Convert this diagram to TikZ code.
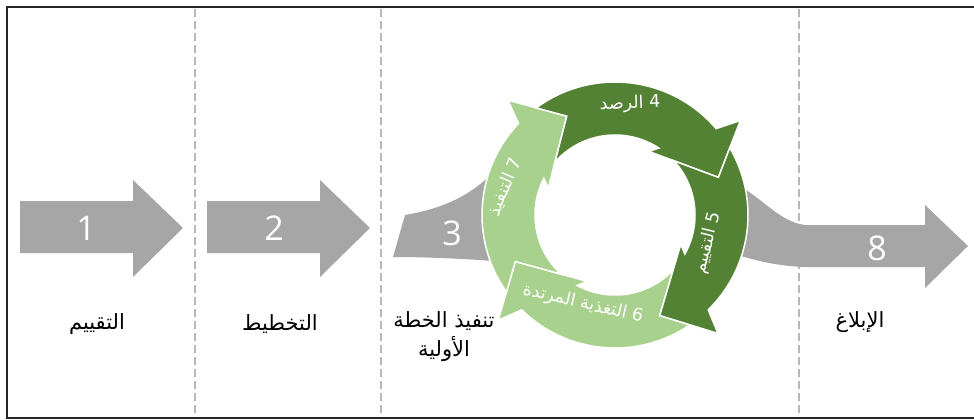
\documentclass[tikz,border=0pt]{standalone}
\usepackage{fontspec}
\setmainfont{Open Sans}
\newfontfamily\arabicfont[Script=Arabic]{DejaVu Sans}
\TeXXeTstate=1
\usetikzlibrary{calc}
\definecolor{darkleaf}{HTML}{548235}
\definecolor{lightleaf}{HTML}{A9D18E}
\definecolor{stepgrey}{HTML}{A6A6A6}
\definecolor{laneline}{HTML}{B8B8B8}

% #1 tip angle of the arrow before, #2 tip angle, #3 colour
\newcommand{\cyclearrow}[3]{%
  \filldraw[ringarrow, fill=#3] (#1+10.35:133pt)
    arc[start angle=#1+10.35, end angle=#2+20.5, radius=133pt]
    -- (#2+17:157pt) -- (#2:110pt) -- (#2+42:72pt) -- (#2+36.8:80pt)
    arc[start angle=#2+36.8, end angle=#1+22.7, radius=80pt]
    -- (#1:110pt) -- cycle;}

\begin{document}
\begin{tikzpicture}[x=1pt, y=1pt,
  lane/.style={laneline, line width=2.8pt, dash pattern=on 8pt off 4pt},
  greyarrow/.style={fill=stepgrey},
  stepnum/.style={text=white, font=\fontsize{34}{34}\selectfont},
  phase/.style={font=\arabicfont\fontsize{21}{29}\selectfont, align=center},
  ringlabel/.style={text=white, font=\arabicfont\fontsize{17.5}{20}\selectfont},
  ringarrow/.style={draw=white, line width=1.5pt, line join=miter}]
  \useasboundingbox (0,0) rectangle (974,-420);

  % frame and lanes
  \draw[line width=1.5pt, black!85] (976,-7) -- (7,-7) -- (7,-418) -- (976,-418);
  \draw[lane] (195,-9) -- (195,-416);
  \draw[lane] (381,-9) -- (381,-416);
  \draw[lane] (799,-9) -- (799,-416);

  % straight steps
  \fill[greyarrow] (20,-201) -- (133,-201) -- (133,-180) -- (183,-228)
    -- (133,-277) -- (133,-253) -- (20,-253) -- cycle;
  \fill[greyarrow] (207,-201) -- (320,-201) -- (320,-180) -- (370,-228)
    -- (320,-277) -- (320,-253) -- (207,-253) -- cycle;
  \node[stepnum] (n1) at (86,-228) {1};
  \node[stepnum] (n2) at (274,-228) {2};

  % curved steps into and out of the cycle
  \fill[greyarrow] (405,-215) .. controls (445,-208) and (475,-195) .. (505,-160)
    -- (505,-262) .. controls (470,-259) and (430,-257) .. (393,-257) -- cycle;
  \fill[greyarrow] (735,-183) .. controls (765,-200) and (780,-222) .. (805,-225)
    -- (925,-225) -- (925,-205) -- (968,-246) -- (925,-288) -- (925,-267)
    -- (805,-267) .. controls (780,-266) and (760,-262) .. (738,-255) -- cycle;
  \node[stepnum] (n3) at (452,-233) {3};
  \node[stepnum] (n8) at (877,-248) {8};

  % the cycle
  \begin{scope}[shift={(615,-215)}]
    \cyclearrow{-66}{-155}{lightleaf}
    \cyclearrow{-155}{-244}{lightleaf}
    \cyclearrow{116}{20}{darkleaf}
    \cyclearrow{20}{-66}{darkleaf}
  \end{scope}
  \node[ringlabel, rotate=2] (monitor) at (630,-104) {\beginR 4 الرصد\endR};
  \node[ringlabel, rotate=76] (review) at (708,-243) {\beginR 5 التقييم\endR};
  \node[ringlabel, rotate=-13] (feedback) at (583,-304) {\beginR 6 التغذية المرتدة\endR};
  \node[ringlabel, rotate=67] (execute) at (505,-187) {\beginR 7 التنفيذ\endR};

  % phase names
  \node[phase] (assess) at (97,-324) {\beginR التقييم\endR};
  \node[phase] (plan) at (280,-324) {\beginR التخطيط\endR};
  \node[phase] (start) at (444,-337) {\beginR تنفيذ الخطة\endR\\\beginR الأولية\endR};
  \node[phase] (report) at (860,-322) {\beginR الإبلاغ\endR};
\end{tikzpicture}
\end{document}
